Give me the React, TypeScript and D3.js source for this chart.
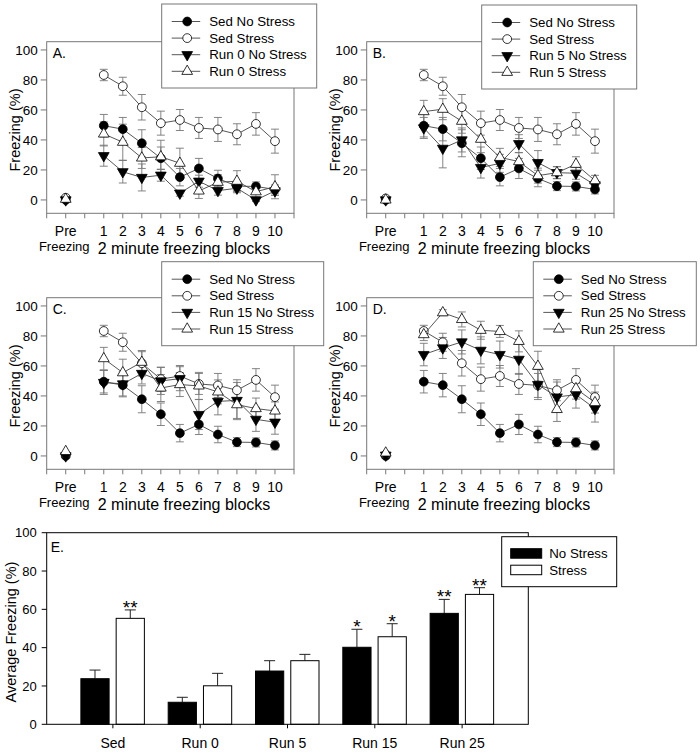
import * as d3 from "d3";

// ---- data ----
const blocks = [1, 2, 3, 4, 5, 6, 7, 8, 9, 10];
const yTicks = [0, 20, 40, 60, 80, 100];

const sedNoStress = [49.5, 47.2, 37.8, 27.8, 15.2, 21, 14.3, 9.2, 9, 7];
const sedNoStressErr = [7.5, 7.8, 9, 7.5, 5.8, 6.7, 5.5, 3, 3, 3];
const sedStress = [83.3, 75.8, 61.8, 51.2, 53.3, 48, 47, 43.8, 50.7, 39.2];
const sedStressErr = [3.8, 6, 8.5, 8, 7, 7, 8, 7, 7.5, 8];

const run0NoStress = [29.5, 18.8, 15, 16.5, 4.5, 12.5, 6.2, 7.8, 0, 6];
const run0NoStressErr = [7, 7.5, 9, 4, 2, 4, 3, 3, 1, 3];
const run0Stress = [44, 38.5, 28, 28.8, 24.5, 6, 11.8, 12.5, 5.5, 8.8];
const run0StressErr = [8, 12, 7, 11, 10, 5, 5, 7, 3.5, 8];

const run5NoStress = [48, 34.4, 40, 21.6, 24.4, 37.5, 24.9, 18.2, 17.8, 10];
const run5NoStressErr = [7, 13, 8, 7, 6, 6, 8, 4, 4, 3];
const run5Stress = [58.9, 60.5, 52.5, 40.5, 28.4, 25.6, 16.2, 18.2, 23.8, 12.9];
const run5StressErr = [7.5, 7, 8, 9, 6, 6, 5, 4, 5, 3.5];

const run15NoStress = [49, 48, 55, 50, 51.5, 27.6, 36.4, 37, 24.4, 22.5];
const run15NoStressErr = [8, 8, 7, 9, 8, 10, 9, 12, 8, 8];
const run15Stress = [64.9, 55.5, 62.5, 45.3, 47.6, 46.7, 42.7, 34.2, 31.6, 30];
const run15StressErr = [7.5, 9, 7, 9, 8, 9, 8, 10, 7, 6];

const run25NoStress = [67.6, 72, 76, 70.4, 67.6, 64.4, 47.6, 39.3, 40.9, 31.6];
const run25NoStressErr = [7.5, 7, 8, 9, 9, 10, 10, 10, 9, 9];
const run25Stress = [80.9, 95.5, 91, 83.8, 83, 76.4, 59.8, 31, 44.9, 35.6];
const run25StressErr = [4, 2, 5, 6, 4, 7, 10, 8, 7, 7];

// pre-freezing values: sed no stress, sed stress, run no stress, run stress
const preA = [0, 1.5, 0, 0.5];
const preB = [0, 1, 0, 0];
const preC = [0, 1, 0, 3];
const preD = [0, 1, 0.5, 2];

// panel E
const groups = ["Sed", "Run 0", "Run 5", "Run 15", "Run 25"];
const avgNoStress = [23.8, 11.5, 27.8, 40.2, 57.9];
const avgNoStressErr = [4.5, 2.6, 5.4, 9.4, 7.3];
const avgStress = [55.3, 20.1, 33.2, 45.7, 67.8];
const avgStressErr = [4.4, 6.5, 3.3, 6.8, 3.5];
const starsNoStress = ["", "", "", "*", "**"];
const starsStress = ["**", "", "", "*", "**"];

const FONT = "'Liberation Sans', Arial, Helvetica, sans-serif";
const GRID = "#777";

const panels = [
  { letter: "A.", run: "Run 0", dx: 0, dy: 0, pre: preA, ns: run0NoStress, nsErr: run0NoStressErr, s: run0Stress, sErr: run0StressErr, lx: 161.7, ly: 4, lw: 155 },
  { letter: "B.", run: "Run 5", dx: 320, dy: 0, pre: preB, ns: run5NoStress, nsErr: run5NoStressErr, s: run5Stress, sErr: run5StressErr, lx: 481.7, ly: 5, lw: 155 },
  { letter: "C.", run: "Run 15", dx: 0, dy: 256, pre: preC, ns: run15NoStress, nsErr: run15NoStressErr, s: run15Stress, sErr: run15StressErr, lx: 161.7, ly: 261.7, lw: 162 },
  { letter: "D.", run: "Run 25", dx: 320, dy: 256, pre: preD, ns: run25NoStress, nsErr: run25NoStressErr, s: run25Stress, sErr: run25StressErr, lx: 533.3, ly: 261.7, lw: 163 },
];

const triPath = d3.symbol(d3.symbolTriangle, 50)() as string;

function Marker({ shape, cx, cy, fill }: { shape: string; cx: number; cy: number; fill: string }) {
  if (shape === "circle") {
    return <circle cx={cx} cy={cy} r={4.4} fill={fill} stroke="#000" strokeWidth={0.8} />;
  }
  const rot = shape === "down" ? 180 : 0;
  return (
    <path
      d={triPath}
      transform={`translate(${cx},${cy}) rotate(${rot})`}
      fill={fill}
      stroke="#000"
      strokeWidth={0.8}
    />
  );
}

function LinePanel({ p }: { p: any }) {
  const x = d3.scaleLinear().domain([-2, 11]).range([46.7 + p.dx, 294 + p.dx]);
  const y = d3.scaleLinear().domain([-8.9, 105.5]).range([213.3 + p.dy, 41.7 + p.dy]);
  const [x0, x1] = x.range();
  const [yb, yt] = y.range();

  const series = [
    { label: "Sed No Stress", vals: sedNoStress, err: sedNoStressErr, pre: p.pre[0], shape: "circle", fill: "#000" },
    { label: "Sed Stress", vals: sedStress, err: sedStressErr, pre: p.pre[1], shape: "circle", fill: "#fff" },
    { label: `${p.run} No Stress`, vals: p.ns, err: p.nsErr, pre: p.pre[2], shape: "down", fill: "#000" },
    { label: `${p.run} Stress`, vals: p.s, err: p.sErr, pre: p.pre[3], shape: "up", fill: "#fff" },
  ];

  const line = d3
    .line<number>()
    .x((_, i) => x(blocks[i]))
    .y((v) => y(v));

  return (
    <g>
      {/* frame */}
      <rect x={x0} y={yt} width={x1 - x0} height={yb - yt} fill="none" stroke={GRID} strokeWidth={1} />
      {d3.range(-2, 12).map((t) => (
        <line key={"xt" + t} x1={x(t)} x2={x(t)} y1={yb} y2={yb + 5} stroke={GRID} />
      ))}
      {yTicks.map((t) => (
        <g key={"yt" + t}>
          <line x1={x0 - 6} x2={x0} y1={y(t)} y2={y(t)} stroke={GRID} />
          <text x={x0 - 9} y={y(t)} dy="0.35em" textAnchor="end" fontSize={13.5}>
            {t}
          </text>
        </g>
      ))}
      <text x={x(-1)} y={yb + 23} textAnchor="middle" fontSize={14}>Pre</text>
      <text x={x(-1) - 1.5} y={yb + 38} textAnchor="middle" fontSize={13}>Freezing</text>
      {blocks.map((b) => (
        <text key={"xl" + b} x={x(b)} y={yb + 23} textAnchor="middle" fontSize={14}>
          {b}
        </text>
      ))}
      <text x={x(5.22)} y={yb + 41} textAnchor="middle" fontSize={16}>
        2 minute freezing blocks
      </text>
      <text
        transform={`translate(${20 + p.dx},${130 + p.dy}) rotate(-90)`}
        textAnchor="middle"
        fontSize={14.5}
      >
        Freezing (%)
      </text>
      <text x={x0 + 6} y={y(100) + 8} fontSize={14}>
        {p.letter}
      </text>

      {/* error bars */}
      {series.map((s, si) =>
        s.vals.map((v: number, i: number) => (
          <g key={`e${si}-${i}`} stroke={GRID} strokeWidth={0.9}>
            <line x1={x(blocks[i])} x2={x(blocks[i])} y1={y(v - s.err[i])} y2={y(v + s.err[i])} />
            <line x1={x(blocks[i]) - 4} x2={x(blocks[i]) + 4} y1={y(v + s.err[i])} y2={y(v + s.err[i])} />
            <line x1={x(blocks[i]) - 4} x2={x(blocks[i]) + 4} y1={y(v - s.err[i])} y2={y(v - s.err[i])} />
          </g>
        ))
      )}

      {/* lines + markers */}
      {series.map((s, si) => (
        <g key={"s" + si}>
          <path d={line(s.vals) as string} fill="none" stroke="#444" strokeWidth={0.9} />
          {s.vals.map((v: number, i: number) => (
            <Marker key={i} shape={s.shape} cx={x(blocks[i])} cy={y(v)} fill={s.fill} />
          ))}
          <Marker shape={s.shape} cx={x(-1)} cy={y(s.pre)} fill={s.fill} />
        </g>
      ))}

      {/* legend */}
      <g transform={`translate(${p.lx},${p.ly})`}>
        <rect x={0} y={0} width={p.lw} height={84} fill="#fff" stroke={GRID} strokeWidth={1} />
        {series.map((s, i) => {
          const ly = 17.5 + i * 16.6;
          return (
            <g key={"l" + i}>
              <line x1={10} x2={38.5} y1={ly} y2={ly} stroke="#444" strokeWidth={0.9} />
              <Marker shape={s.shape} cx={25.5} cy={ly} fill={s.fill} />
              <text x={47.5} y={ly} dy="0.35em" fontSize={13.3}>
                {s.label}
              </text>
            </g>
          );
        })}
      </g>
    </g>
  );
}

function BarPanel() {
  const x = d3.scalePoint().domain(groups).range([46.7, 528.3]).padding(0.758);
  const sub = d3.scaleBand().domain(["ns", "s"]).range([-32, 31.5]).paddingInner(0.2);
  const y = d3.scaleLinear().domain([0, 100]).range([724.3, 532.7]);
  const [x0, x1] = x.range();
  const bw = sub.bandwidth();

  const bars = [
    { key: "ns", vals: avgNoStress, err: avgNoStressErr, stars: starsNoStress, fill: "#000" },
    { key: "s", vals: avgStress, err: avgStressErr, stars: starsStress, fill: "#fff" },
  ];

  return (
    <g>
      {bars.map((b) =>
        groups.map((g, i) => {
          const bx = (x(g) as number) + (sub(b.key) as number);
          const cx = bx + bw / 2;
          const top = y(b.vals[i]);
          const et = y(b.vals[i] + b.err[i]);
          return (
            <g key={b.key + g}>
              <line x1={cx} x2={cx} y1={top} y2={et} stroke="#222" strokeWidth={1} />
              <line x1={cx - 5.5} x2={cx + 5.5} y1={et} y2={et} stroke="#222" strokeWidth={1} />
              <rect x={bx} y={top} width={bw} height={y(0) - top} fill={b.fill} stroke="#000" strokeWidth={1} />
              {b.stars[i] && (
                <text x={cx} y={et + 4} textAnchor="middle" fontSize={19}>
                  {b.stars[i]}
                </text>
              )}
            </g>
          );
        })
      )}
      <rect x={x0} y={y(100)} width={x1 - x0} height={y(0) - y(100)} fill="none" stroke="#000" strokeWidth={1} />
      {yTicks.map((t) => (
        <g key={"eyt" + t}>
          <line x1={x0 - 5} x2={x0} y1={y(t)} y2={y(t)} stroke="#000" />
          <text x={x0 - 10} y={y(t)} dy="0.35em" textAnchor="end" fontSize={13}>
            {t}
          </text>
        </g>
      ))}
      {groups.map((g) => (
        <g key={"ex" + g}>
          <line x1={x(g) as number} x2={x(g) as number} y1={y(0)} y2={y(0) + 4} stroke="#000" />
          <text x={x(g) as number} y={y(0) + 24} textAnchor="middle" fontSize={14}>
            {g}
          </text>
        </g>
      ))}
      <text x={x0 + 4} y={y(100) + 19} fontSize={14}>E.</text>
      <text transform={`translate(16,632) rotate(-90)`} textAnchor="middle" fontSize={14.5}>
        Average Freezing (%)
      </text>
      <g transform="translate(501.7,536.7)">
        <rect x={0} y={0} width={115} height={50} fill="#fff" stroke="#000" strokeWidth={1} />
        <rect x={9} y={12} width={31} height={9.5} fill="#000" stroke="#000" />
        <rect x={9} y={28.5} width={31} height={9.5} fill="#fff" stroke="#000" />
        <text x={47.5} y={16.8} dy="0.35em" fontSize={13.3}>No Stress</text>
        <text x={47.5} y={33.3} dy="0.35em" fontSize={13.3}>Stress</text>
      </g>
    </g>
  );
}

export default function App() {
  return (
    <svg
      width={700}
      height={753}
      style={{ position: "absolute", left: 0, top: 0, background: "#fff" }}
      fontFamily={FONT}
    >
      <rect width={700} height={753} fill="#fff" />
      {panels.map((p) => (
        <LinePanel key={p.letter} p={p} />
      ))}
      <BarPanel />
    </svg>
  );
}
